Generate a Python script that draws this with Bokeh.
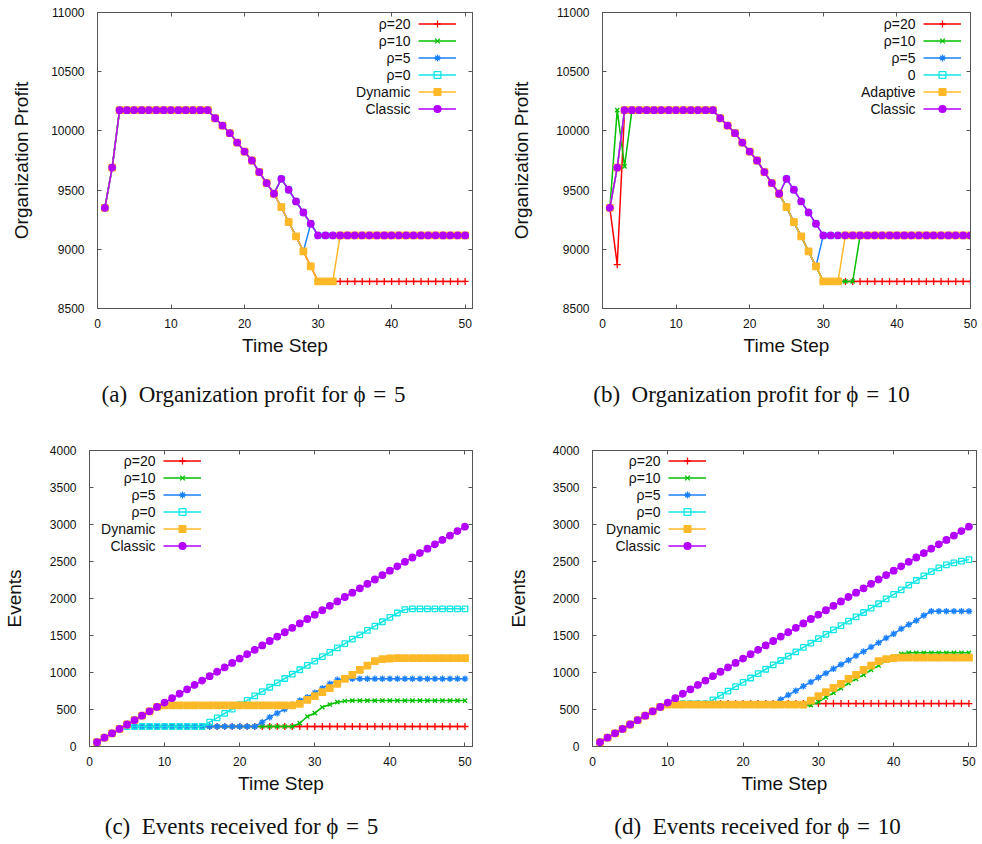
from bokeh.plotting import figure
from bokeh.models import Range1d, FixedTicker, LinearAxis, Legend, LegendItem, Label
from bokeh.layouts import column, row
from bokeh.embed import file_html
from bokeh.resources import INLINE
from bokeh.core.properties import value

# ------------------------------------------------------------------ data
steps = list(range(1, 51))

x_ticks = [0, 10, 20, 30, 40, 50]
profit_ticks = [8500, 9000, 9500, 10000, 10500, 11000]
event_ticks = [0, 500, 1000, 1500, 2000, 2500, 3000, 3500, 4000]

# Organization profit, phi = 5  (panel a)
classic_profit = ([9350, 9690] + [10175] * 13
                  + [10107, 10045, 9981, 9901, 9825, 9750, 9652, 9559, 9469,
                     9595, 9503, 9404, 9311, 9216] + [9117] * 21)
dynamic_profit_a = (classic_profit[:24]
                    + [9357, 9230, 9109, 8982, 8856, 8729, 8729, 8729] + [9117] * 18)
rho20_profit_a = classic_profit[:24] + [9357, 9230, 9109, 8982, 8856] + [8729] * 21
rho10_profit_a = list(classic_profit)
rho5_profit_a = classic_profit[:24] + [9357, 9230, 9109, 8982, 9216] + [9117] * 21
rho0_profit_a = list(classic_profit)

# Organization profit, phi = 10  (panel b)
rho20_profit_b = ([9350, 8870] + [10175] * 13 + classic_profit[15:24]
                  + [9357, 9230, 9109, 8982, 8856] + [8729] * 21)
rho10_profit_b = ([9350, 10175, 9700] + [10175] * 12 + classic_profit[15:24]
                  + [9357, 9230, 9109, 8982, 8856, 8729, 8729, 8729, 8729, 8729]
                  + [9117] * 16)
rho5_profit_b = classic_profit[:24] + [9357, 9230, 9109, 8982, 8856] + [9117] * 21
rho0_profit_b = list(classic_profit)
adaptive_profit_b = list(dynamic_profit_a)

# Events received (panels c, d)
classic_events = [59, 119, 178, 238, 297, 356, 416, 475, 535, 594,
                  653, 713, 772, 832, 891, 950, 1010, 1069, 1129, 1188,
                  1247, 1307, 1366, 1426, 1485, 1544, 1604, 1663, 1723, 1782,
                  1841, 1901, 1960, 2020, 2079, 2138, 2198, 2257, 2317, 2376,
                  2435, 2495, 2554, 2614, 2673, 2732, 2792, 2851, 2911, 2970]

rho20_events_c = [59, 119, 178, 238] + [270] * 46
rho10_events_c = ([59, 119, 178, 238] + [270] * 23
                  + [315, 405, 450, 531, 567, 599, 615] + [621] * 16)
rho5_events_c = ([59, 119, 178, 238] + [270] * 18
                 + [329, 396, 450, 504, 567, 621, 666, 725, 788, 847, 901] + [914] * 17)
rho0_events_c = ([59, 119, 178, 238] + [270] * 11
                 + [329, 388, 447, 506, 565, 624, 683, 742, 801, 860,
                    919, 978, 1037, 1096, 1155, 1214, 1273, 1332, 1391, 1450,
                    1509, 1568, 1627, 1686, 1745, 1804, 1851] + [1860] * 8)
dynamic_events_c = ([59, 119, 178, 238, 297, 356, 416, 475, 535] + [556] * 18
                    + [577, 631, 680, 734, 788, 847, 914, 968, 1036, 1094,
                       1153, 1180, 1189] + [1193] * 10)

rho20_events_d = [59, 119, 178, 238, 297, 356, 416, 475, 535] + [580] * 41
rho10_events_d = ([59, 119, 178, 238, 297, 356, 416, 475, 535] + [572] * 18
                  + [550, 560, 599, 666, 725, 788, 856, 914, 968, 1036, 1094,
                     1162, 1216, 1252] + [1266] * 9)
rho5_events_d = ([59, 119, 178, 238, 297, 356, 416, 475, 535] + [577] * 15
                 + [636, 695, 754, 813, 872, 931, 990, 1049, 1108, 1167,
                    1226, 1285, 1344, 1403, 1465, 1522, 1590, 1648, 1702, 1770,
                    1828] + [1828] * 5)
rho0_events_d = ([59, 119, 178, 238, 297, 356, 416, 475, 535] + [578] * 6
                 + [631, 690, 749, 808, 867, 926, 985, 1044, 1103, 1162,
                    1221, 1280, 1339, 1398, 1457, 1516, 1575, 1634, 1693, 1752,
                    1811, 1870, 1929, 1996, 2055, 2117, 2180, 2243, 2305, 2364,
                    2414, 2455, 2482, 2504, 2526])
dynamic_events_d = ([59, 119, 178, 238, 297, 356, 416, 475, 535] + [565] * 19
                    + [621, 680, 734, 793, 847, 914, 968, 1036, 1094, 1153,
                       1180, 1193] + [1200] * 10)

labels_main = ["ρ=20", "ρ=10", "ρ=5", "ρ=0", "Dynamic", "Classic"]
labels_b = ["ρ=20", "ρ=10", "ρ=5", "0", "Adaptive", "Classic"]

captions_top = ["(a)\u2002Organization profit for ϕ\u2004=\u20045",
                "(b)\u2002Organization profit for ϕ\u2004=\u200410"]
captions_bottom = ["(c)\u2002Events received for ϕ\u2004=\u20045",
                   "(d)\u2002Events received for ϕ\u2004=\u200410"]

# ------------------------------------------------------------------ style
AX = "#555555"
SANS = "Liberation Sans"
SERIF = "Liberation Serif"
STYLES = [
    dict(marker="cross", color="#ff0000", size=7, fill=False),
    dict(marker="x", color="#00c000", size=6, fill=False),
    dict(marker="asterisk", color="#1a80ff", size=6.5, fill=False),
    dict(marker="square", color="#10e6e6", size=5.5, fill=False),
    dict(marker="square", color="#ffb928", size=6.5, fill=True),
    dict(marker="circle", color="#b400ff", size=6.5, fill=True),
]
ROW_H = 17


def make_panel(width, height, bl, br, bt, bb, x_end, y_rng, y_ticks, y_label,
               series, labels, legend_loc, ylab_standoff):
    p = figure(width=width, height=height, output_backend="svg",
               toolbar_location=None, title=None,
               x_range=Range1d(0, x_end), y_range=Range1d(*y_rng),
               min_border_left=bl, min_border_right=br,
               min_border_top=bt, min_border_bottom=bb,
               x_axis_label="Time Step", y_axis_label=y_label)
    p.grid.visible = False
    p.outline_line_color = AX
    p.background_fill_color = "white"
    p.border_fill_color = "white"

    p.xaxis.ticker = FixedTicker(ticks=x_ticks)
    p.yaxis.ticker = FixedTicker(ticks=y_ticks)
    for ax in p.xaxis + p.yaxis:
        ax.axis_line_color = AX
        ax.major_tick_line_color = AX
        ax.major_tick_in = 4
        ax.major_tick_out = 0
        ax.minor_tick_line_color = None
        ax.major_label_text_font = SANS
        ax.major_label_text_font_size = "12px"
        ax.major_label_text_color = "#111111"
        ax.axis_label_text_font = SANS
        ax.axis_label_text_font_size = "19px"
        ax.axis_label_text_font_style = "normal"
        ax.axis_label_text_color = "#111111"
    p.xaxis.major_label_standoff = 10
    p.xaxis.axis_label_standoff = 4
    p.yaxis.major_label_standoff = 13
    p.yaxis.axis_label_standoff = ylab_standoff

    for side, tk in (("right", y_ticks), ("above", x_ticks)):
        ax = LinearAxis(ticker=FixedTicker(ticks=tk), axis_line_color=AX,
                        major_tick_line_color=AX, major_tick_in=4, major_tick_out=0,
                        minor_tick_line_color=None, major_label_text_color=None,
                        major_label_standoff=0)
        p.add_layout(ax, side)

    items = []
    for vals, st in zip(series, STYLES):
        xs = steps[:len(vals)]
        lr = p.line(xs, vals, line_color=st["color"], line_width=1.5)
        sr = p.scatter(xs, vals, marker=st["marker"], size=st["size"],
                       line_color=st["color"], line_width=1.3,
                       fill_color=st["color"] if st["fill"] else None)
        items.append(LegendItem(label="", renderers=[lr, sr]))

    gx, gy = legend_loc
    leg = Legend(items=items, location=(gx, gy), orientation="vertical",
                 glyph_width=38, glyph_height=ROW_H, label_height=ROW_H, label_width=0,
                 spacing=0, padding=0, margin=0, label_standoff=0,
                 label_text_font=SANS, label_text_font_size="14px",
                 border_line_alpha=0, background_fill_alpha=0)
    p.add_layout(leg)

    top = gy + ROW_H * len(labels)
    for i, lab in enumerate(labels):
        p.add_layout(Label(x=gx - 8, y=top - ROW_H / 2 - ROW_H * i,
                           x_units="screen", y_units="screen", text=lab,
                           text_align="right", text_baseline="middle",
                           text_font=SANS, text_font_size="14px",
                           text_color="#111111"))
    return p


def make_caption(width, height, texts, xs, y):
    c = figure(width=width, height=height, output_backend="svg", toolbar_location=None,
               title=None, x_range=Range1d(0, width), y_range=Range1d(0, height),
               x_axis_type=None, y_axis_type=None, min_border=0)
    c.min_border_left = c.min_border_right = c.min_border_top = c.min_border_bottom = 0
    c.grid.visible = False
    c.outline_line_color = None
    c.text(x=xs, y=[y] * len(texts), text=texts, text_align="center",
           text_baseline="middle", text_font=value(SERIF), text_font_size="23px",
           text_color="#111111")
    return c


pa = make_panel(499, 363, 97, 27, 12, 55, 51, (8500, 11000), profit_ticks,
                "Organization Profit",
                [rho20_profit_a, rho10_profit_a, rho5_profit_a, rho0_profit_a,
                 dynamic_profit_a, classic_profit],
                labels_main, (321, 191), 16)
pb = make_panel(481, 363, 103, 10, 12, 55, 50, (8500, 11000), profit_ticks,
                "Organization Profit",
                [rho20_profit_b, rho10_profit_b, rho5_profit_b, rho0_profit_b,
                 adaptive_profit_b, classic_profit],
                labels_b, (321, 191), 21)
pc = make_panel(499, 376, 88, 27, 30, 50, 51, (0, 4000), event_ticks, "Events",
                [rho20_events_c, rho10_events_c, rho5_events_c, rho0_events_c,
                 dynamic_events_c, classic_events],
                labels_main, (74, 192), 22)
pd = make_panel(481, 376, 93, 4, 30, 50, 51, (0, 4000), event_ticks, "Events",
                [rho20_events_d, rho10_events_d, rho5_events_d, rho0_events_d,
                 dynamic_events_d, classic_events],
                labels_main, (76, 192), 21)

cap1 = make_caption(980, 57, captions_top, [253, 751], 26)
cap2 = make_caption(980, 46, captions_bottom, [241, 757], 16)

layout = column(row(pa, pb), cap1, row(pc, pd), cap2)

with open("out.html", "w") as f:
    f.write(file_html(layout, INLINE))
